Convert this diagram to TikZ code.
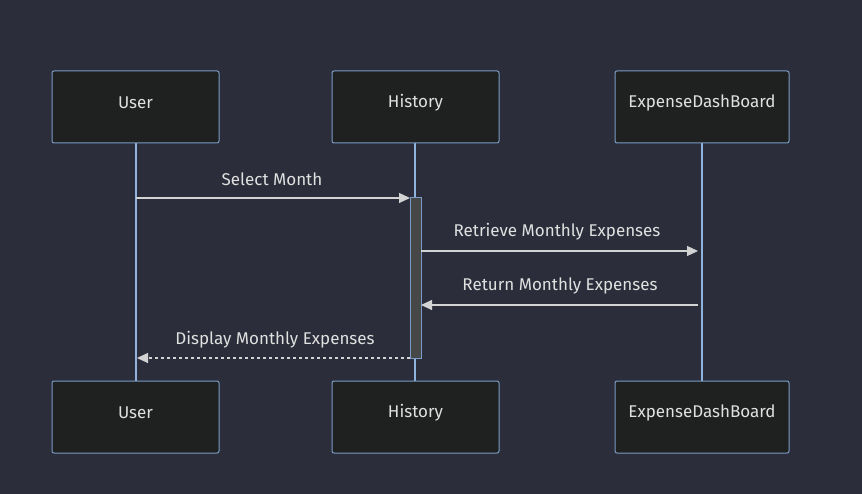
\documentclass[tikz,border=0pt]{standalone}
\usepackage{fontspec}
\setmainfont{Fira Sans}
\usetikzlibrary{arrows.meta}
\definecolor{bg}{HTML}{2B2E3A}
\definecolor{boxfill}{HTML}{1F2020}
\definecolor{boxline}{HTML}{7A9CC6}
\definecolor{life}{HTML}{8FB3DD}
\definecolor{txt}{HTML}{E0E0E0}
\definecolor{arr}{HTML}{D3D3D3}
\definecolor{act}{HTML}{464848}
\begin{document}
\begin{tikzpicture}[x=1pt,y=-1pt,
  actor/.style={draw=boxline,fill=boxfill,line width=1pt,rounded corners=2pt,minimum width=167pt,minimum height=72pt,inner sep=0pt},
  atext/.style={text=txt,font=\fontsize{17}{20}\selectfont,inner sep=0pt},
  lifeline/.style={draw=life,line width=1.5pt},
  msg/.style={draw=arr,line width=1.2pt,-{Triangle[length=11pt,width=10pt]}},
  lbl/.style={text=txt,font=\fontsize{17}{20}\selectfont,inner sep=0pt}]
\fill[bg] (0,0) rectangle (862,494);
\useasboundingbox (0,0) rectangle (862,494);
% lifelines
\coordinate (uT) at (136,143); \coordinate (uB) at (136,381);
\coordinate (hT) at (415,143); \coordinate (hB) at (415,381);
\coordinate (eT) at (702,143); \coordinate (eB) at (702,381);
\draw[lifeline] (uT) -- (uB);
\draw[lifeline] (hT) -- (hB);
\draw[lifeline] (eT) -- (eB);
% actors
\node[actor] (user1) at (135.5,107) {};
\node[actor] (hist1) at (415.5,107) {};
\node[actor,minimum width=174pt] (exp1) at (702,107) {};
\node[actor] (user2) at (135.5,417) {};
\node[actor] (hist2) at (415.5,417) {};
\node[actor,minimum width=174pt] (exp2) at (702,417) {};
\node[atext] at ([yshift=4.5pt]user1.center) {User};
\node[atext] at ([yshift=4.5pt]hist1.center) {History};
\node[atext] at ([yshift=4.5pt]exp1.center) {ExpenseDashBoard};
\node[atext] at ([yshift=4.5pt]user2.center) {User};
\node[atext] at ([yshift=4.5pt]hist2.center) {History};
\node[atext] at ([yshift=4.5pt]exp2.center) {ExpenseDashBoard};
% activation
\node[draw=boxline,fill=act,line width=1pt,minimum width=11pt,minimum height=160pt,inner sep=0pt] (actv) at (415.5,278) {};
% message anchors
\coordinate (m1s) at (136,198); \coordinate (m1e) at (410,198);
\coordinate (m2s) at (421,251); \coordinate (m2e) at (698,251);
\coordinate (m3s) at (698,305); \coordinate (m3e) at (421,305);
\coordinate (m4s) at (410,358); \coordinate (m4e) at (137,358);
\draw[msg] (m1s) -- (m1e);
\draw[msg] (m2s) -- (m2e);
\draw[msg] (m3s) -- (m3e);
\draw[msg,dash pattern=on 3pt off 3pt] (m4s) -- (m4e);
\node[lbl] (l1) at (272,179) {Select Month};
\node[lbl] (l2) at (557,232) {Retrieve Monthly Expenses};
\node[lbl] (l3) at (560,286) {Return Monthly Expenses};
\node[lbl] (l4) at (275,340) {Display Monthly Expenses};
\end{tikzpicture}
\end{document}
